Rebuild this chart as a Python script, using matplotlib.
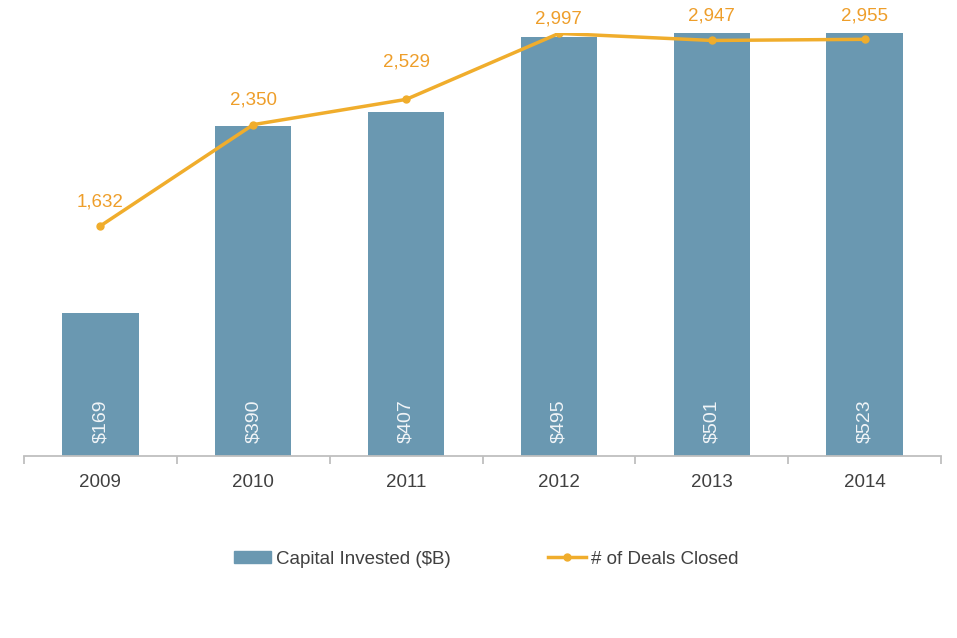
import matplotlib
matplotlib.use("Agg")
import matplotlib.pyplot as plt
from matplotlib.lines import Line2D
from matplotlib.patches import Patch
import numpy as np

years = ["2009", "2010", "2011", "2012", "2013", "2014"]
capital = [169, 390, 407, 495, 501, 523]
deals = [1632, 2350, 2529, 2997, 2947, 2955]
capital_labels = ["$169", "$390", "$407", "$495", "$501", "$523"]
deal_labels = ["1,632", "2,350", "2,529", "2,997", "2,947", "2,955"]
# label offsets above points (points), as placed in the original
deal_label_offsets = [17, 17.5, 27, 10.5, 17.5, 17]

plt.rcParams['font.family'] = ['Liberation Sans', 'DejaVu Sans']

BAR = "#6A98B1"
LINE = "#F0AD2C"
LBL = "#EE9E2A"
TXT = "#404040"
FS = 13.5

fig = plt.figure(figsize=(9.57, 6.38), dpi=100)
ax = fig.add_axes([0.0251, 0.2853, 0.9582, 0.663])
x = np.arange(len(years))
ax.bar(x, capital, width=0.5, color=BAR, zorder=2)
ax.set_ylim(0, 500)
ax.set_xlim(-0.5, len(years) - 0.5)
for xi, lab in zip(x, capital_labels):
    ax.annotate(lab, (xi, 0), xytext=(0, 9), textcoords="offset points",
                rotation=90, ha="center", va="bottom", color="#F0F4F7", fontsize=14, zorder=3)

for s in ["left", "right", "top"]:
    ax.spines[s].set_visible(False)
ax.spines["bottom"].set_color("#BFBFBF")
ax.spines["bottom"].set_linewidth(1.3)
ax.set_yticks([])
ax.set_xticks(x)
ax.set_xticklabels(years, fontsize=FS, color=TXT)
ax.tick_params(axis="x", which="major", length=0, pad=13)
ax.set_xticks(np.arange(-0.5, len(years), 1.0), minor=True)
ax.tick_params(axis="x", which="minor", length=6, width=1.3, color="#BFBFBF", direction="out")

ax2 = ax.twinx()
ax2.plot(x, deals, color=LINE, lw=2.5, marker="o", markersize=5, zorder=4)
ax2.set_ylim(0, 3000)
ax2.set_yticks([])
for s in ["left", "right", "top", "bottom"]:
    ax2.spines[s].set_visible(False)
for xi, v, lab, off in zip(x, deals, deal_labels, deal_label_offsets):
    ax2.annotate(lab, (xi, v), xytext=(0, off), textcoords="offset points",
                 ha="center", va="center", color=LBL, fontsize=FS)

handles = [Patch(facecolor=BAR, edgecolor=BAR),
           Line2D([0], [0], color=LINE, lw=2.5, marker="o", markersize=5)]
leg = fig.legend(handles, ["Capital Invested ($B)", "# of Deals Closed"],
                 loc="center", bbox_to_anchor=(486 / 957, 1 - 559 / 638), ncol=2,
                 frameon=False, fontsize=FS, handlelength=2.0, handleheight=0.55,
                 handletextpad=0.25, columnspacing=5.2)
for t in leg.get_texts():
    t.set_color(TXT)

fig.savefig("out.png", dpi=100)
